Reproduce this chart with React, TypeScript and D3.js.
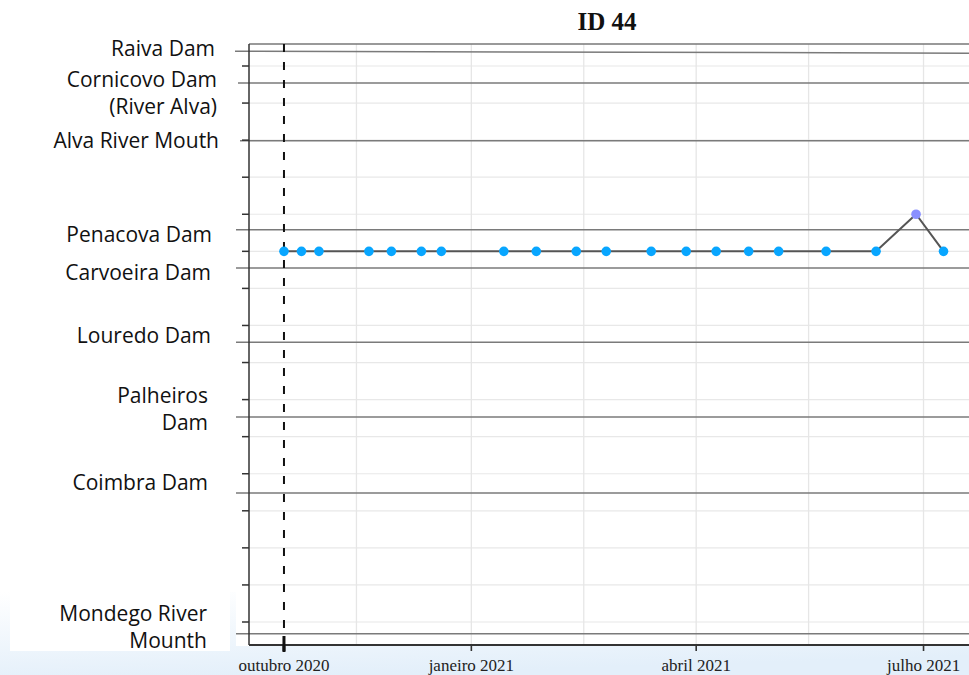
import React from "react";
import * as d3 from "d3";

// detections of tag ID 44
const detectionDates = [
  "2020-10-18", "2020-10-25", "2020-11-01", "2020-11-21", "2020-11-30",
  "2020-12-12", "2020-12-20", "2021-01-14", "2021-01-27", "2021-02-12",
  "2021-02-24", "2021-03-14", "2021-03-28", "2021-04-09", "2021-04-22",
  "2021-05-04", "2021-05-23", "2021-06-12", "2021-06-28", "2021-07-09",
];
const detectionPositions = [6, 6, 6, 6, 6, 6, 6, 6, 6, 6, 6, 6, 6, 6, 6, 6, 6, 6, 5, 6];
const detectionGroups = ["a", "a", "a", "a", "a", "a", "a", "a", "a", "a", "a", "a", "a", "a", "a", "a", "a", "a", "b", "a"];

const releaseDate = "2020-10-18";
const xTickDates = ["2020-10-18", "2021-01-01", "2021-04-01", "2021-07-01"];
const xTickLabels = ["outubro 2020", "janeiro 2021", "abril 2021", "julho 2021"];
const xMinorDates = ["2020-11-16", "2021-02-15", "2021-05-16"];
const yTickValues = [1, 2, 3, 4, 5, 6, 7, 8, 9, 10, 11, 12, 13, 14, 15, 16];

// river stations (overlay), position in y units
const stationNames = [
  ["Raiva Dam"],
  ["Cornicovo Dam", "(River Alva)"],
  ["Alva River Mouth"],
  ["Penacova Dam"],
  ["Carvoeira Dam"],
  ["Louredo Dam"],
  ["Palheiros", "Dam"],
  ["Coimbra Dam"],
  ["Mondego River", "Mounth"],
];
const stationPositions = [0.6, 1.46, 3.02, 5.42, 6.45, 8.45, 10.47, 12.52, 16.32];

// label layout: baseline offset from the station line, right edge, line start
const labelLayout = [
  { dy: 5, right: 215, start: 235 },
  { dy: 4, right: 217, start: 238 },
  { dy: 7, right: 219, start: 240 },
  { dy: 12, right: 212, start: 236 },
  { dy: 12, right: 211, start: 236 },
  { dy: 1, right: 211, start: 236 },
  { dy: -14, right: 208, start: 236 },
  { dy: -3, right: 208, start: 236 },
  { dy: -13, right: 207, start: 236 },
];

const W = 969;
const H = 675;
const panel = { left: 249, top: 44, bottom: 645, right: 971 };

const parse = d3.utcParse("%Y-%m-%d");

export default function App() {
  const x = d3
    .scaleUtc()
    .domain([parse("2020-10-04")!, parse("2021-07-20")!])
    .range([panel.left, panel.right]);
  const y = d3.scaleLinear().domain([1, 16]).range([66, 622]);
  const color = d3.scaleOrdinal<string, string>().domain(["a", "b"]).range(["#08a6ff", "#8a90ff"]);

  const pts = detectionDates.map((d, i) => ({
    date: parse(d)!,
    pos: detectionPositions[i],
    group: detectionGroups[i],
  }));
  const line = d3
    .line<{ date: Date; pos: number }>()
    .x((d) => x(d.date))
    .y((d) => y(d.pos));

  const rx = x(parse(releaseDate)!);

  return (
    <svg
      width={W}
      height={H}
      style={{ position: "absolute", left: 0, top: 0, background: "#fff" }}
    >
      <defs>
        <linearGradient id="bg" x1="0" y1="0" x2="0.35" y2="1">
          <stop offset="0" stopColor="#ffffff" />
          <stop offset="1" stopColor="#e3effa" />
        </linearGradient>
      </defs>
      <rect x={0} y={592} width={W} height={H - 592} fill="url(#bg)" />
      <rect x={10} y={590} width={220} height={61} fill="#fff" />
      <rect x={236} y={590} width={W - 236} height={56} fill="#fff" />

      {/* grid */}
      {yTickValues.map((v) => (
        <line key={"gy" + v} x1={panel.left} x2={W} y1={y(v)} y2={y(v)} stroke="#e8e8e8" strokeWidth={1.2} />
      ))}
      {xMinorDates.concat(xTickDates.slice(1)).map((d) => (
        <line key={"gx" + d} x1={x(parse(d)!)} x2={x(parse(d)!)} y1={panel.top} y2={panel.bottom} stroke="#e6e6e6" strokeWidth={1.3} />
      ))}

      {/* station overlay lines */}
      {stationPositions.map((p, i) => (
        <line
          key={"st" + i}
          x1={labelLayout[i].start}
          x2={W}
          y1={y(p)}
          y2={i === 0 ? y(p) + 2 : y(p)}
          stroke="#7a7a7a"
          strokeWidth={1.5}
        />
      ))}

      {/* panel frame */}
      <line x1={panel.left} x2={W} y1={panel.top} y2={panel.top} stroke="#777" strokeWidth={1.5} />
      <line x1={panel.left} x2={panel.left} y1={panel.top} y2={panel.bottom} stroke="#333" strokeWidth={1.5} />
      <line x1={panel.left} x2={W} y1={panel.bottom} y2={panel.bottom} stroke="#333" strokeWidth={2} />

      {/* y ticks */}
      {yTickValues.map((v) => (
        <line key={"ty" + v} x1={panel.left - 7} x2={panel.left} y1={y(v)} y2={y(v)} stroke="#333" strokeWidth={1.5} />
      ))}

      {/* x ticks */}
      {xTickDates.map((d, i) => (
        <g key={"tx" + d} transform={`translate(${x(parse(d)!)},0)`}>
          <line y1={panel.bottom} y2={panel.bottom + 6} stroke="#333" strokeWidth={i === 0 ? 3 : 1.6} />
          <text
            y={671}
            textAnchor="middle"
            fontFamily="'Liberation Serif', 'Times New Roman', serif"
            fontSize={17}
            fill="#222"
          >
            {xTickLabels[i]}
          </text>
        </g>
      ))}

      {/* release date */}
      <line x1={rx} x2={rx} y1={panel.top} y2={panel.bottom + 6} stroke="#111" strokeWidth={2} strokeDasharray="8,10" />
      <line x1={rx} x2={rx} y1={panel.bottom - 9} y2={panel.bottom + 7} stroke="#111" strokeWidth={3} />

      {/* track */}
      <path d={line(pts) ?? ""} fill="none" stroke="#555" strokeWidth={2} />
      {pts.map((p, i) => (
        <circle key={"p" + i} cx={x(p.date)} cy={y(p.pos)} r={4.8} fill={color(p.group)} />
      ))}

      {/* title */}
      <text
        x={607}
        y={30}
        textAnchor="middle"
        fontFamily="'Liberation Serif', 'Times New Roman', serif"
        fontWeight="bold"
        fontSize={25}
        fill="#111"
      >
        ID 44
      </text>

      {/* station labels */}
      {stationNames.map((lines, i) => (
        <text
          key={"lb" + i}
          x={labelLayout[i].right}
          y={y(stationPositions[i]) + labelLayout[i].dy}
          textAnchor="end"
          fontFamily="'Open Sans', sans-serif"
          fontSize={21}
          fill="#111"
        >
          {lines.map((t, j) => (
            <tspan key={j} x={labelLayout[i].right} dy={j === 0 ? 0 : 27}>
              {t}
            </tspan>
          ))}
        </text>
      ))}
    </svg>
  );
}
